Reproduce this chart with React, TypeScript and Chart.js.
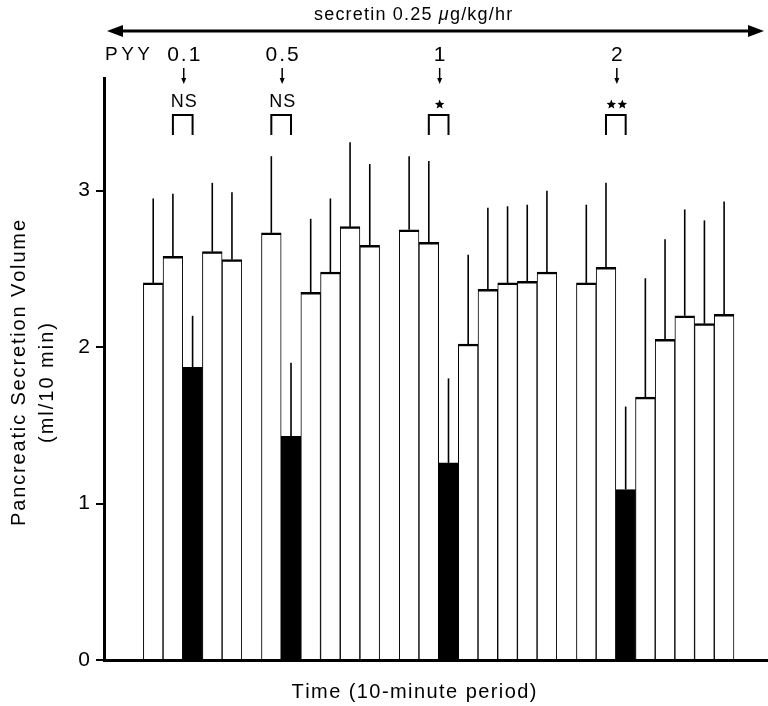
import React, { useEffect, useRef } from 'react';
import { Chart, registerables } from 'chart.js';

Chart.register(...registerables);

// 10-minute periods (slot index along the time axis); null = empty slot
const periods = [0, 1, 2, 3, 4, 5, 6, 7, 8, 9, 10, 11, 12, 13, 14, 15, 16, 17, 18, 19, 20, 21, 22, 23, 24, 25, 26, 27, 28, 29];
const means = [2.41, 2.58, 1.87, 2.61, 2.56, null, 2.73, 1.43, 2.35, 2.48, 2.77, 2.65, null, 2.75, 2.67, 1.26, 2.02, 2.37, 2.41, 2.42, 2.48, null, 2.41, 2.51, 1.09, 1.68, 2.05, 2.2, 2.15, 2.21];
const sem = [0.54, 0.4, 0.33, 0.44, 0.43, null, 0.49, 0.47, 0.47, 0.47, 0.54, 0.52, null, 0.47, 0.52, 0.54, 0.57, 0.52, 0.49, 0.49, 0.52, null, 0.5, 0.54, 0.53, 0.76, 0.64, 0.68, 0.66, 0.72];

// PYY infusion periods (black bars), doses and significance
const pyySlots = [2, 7, 15, 24];
const pyyDoses = ['0.1', '0.5', '1', '2'];
const significance = ['NS', 'NS', '*', '**'];

const yTicks = [0, 1, 2, 3];
const yTitle = ['Pancreatic Secretion Volume', '(ml/10 min)'];
const xTitle = 'Time (10-minute period)';
const secretinLabel = ['secretin 0.25 ', 'μ', 'g/kg/hr'];
const pyyLabel = 'PYY';

const FONT = '"Liberation Sans", Arial, Helvetica, sans-serif';

function charsWidth(ctx: CanvasRenderingContext2D, text: string) {
  return [...text].map((c) => ctx.measureText(c).width);
}

// draw text with letter spacing; returns end x
function drawSpaced(ctx: CanvasRenderingContext2D, text: string, x: number, y: number, spacing: number, align: 'left' | 'center') {
  const chars = [...text];
  const widths = charsWidth(ctx, text);
  const total = widths.reduce((a, b) => a + b, 0) + spacing * (chars.length - 1);
  let cx = align === 'center' ? x - total / 2 : x;
  ctx.textAlign = 'left';
  chars.forEach((c, i) => {
    ctx.fillText(c, cx, y);
    cx += widths[i] + spacing;
  });
  return cx;
}

function fitSpacing(ctx: CanvasRenderingContext2D, text: string, target: number) {
  const w = charsWidth(ctx, text).reduce((a, b) => a + b, 0);
  const n = [...text].length;
  return n > 1 ? Math.max(0, (target - w) / (n - 1)) : 0;
}

function drawStar(ctx: CanvasRenderingContext2D, cx: number, cy: number, r: number) {
  ctx.beginPath();
  for (let i = 0; i < 10; i++) {
    const rr = i % 2 === 0 ? r : r * 0.45;
    const a = -Math.PI / 2 + (i * Math.PI) / 5;
    const px = cx + rr * Math.cos(a);
    const py = cy + rr * Math.sin(a);
    if (i === 0) ctx.moveTo(px, py);
    else ctx.lineTo(px, py);
  }
  ctx.closePath();
  ctx.fill();
}

const errorBarPlugin = {
  id: 'errorBars',
  afterDatasetsDraw(chart: any) {
    const { ctx, scales } = chart;
    const xs = scales.x;
    const ys = scales.y;
    ctx.save();
    ctx.strokeStyle = '#000';
    ctx.lineWidth = 1.6;
    periods.forEach((p, i) => {
      const m = means[i];
      const s = sem[i];
      if (m == null || s == null) return;
      const x = xs.getPixelForValue(p);
      ctx.beginPath();
      ctx.moveTo(x, ys.getPixelForValue(m));
      ctx.lineTo(x, ys.getPixelForValue(m + s));
      ctx.stroke();
    });
    ctx.restore();
  },
};

const annotationPlugin = {
  id: 'annotations',
  afterDraw(chart: any) {
    const { ctx, scales, chartArea } = chart;
    const xs = scales.x;
    ctx.save();
    ctx.fillStyle = '#000';
    ctx.strokeStyle = '#000';
    ctx.textBaseline = 'alphabetic';

    // secretin double arrow
    const ax1 = 107;
    const ax2 = 764;
    const ay = 31;
    ctx.lineWidth = 3;
    ctx.beginPath();
    ctx.moveTo(ax1 + 10, ay);
    ctx.lineTo(ax2 - 10, ay);
    ctx.stroke();
    ctx.beginPath();
    ctx.moveTo(ax1, ay);
    ctx.lineTo(ax1 + 16, ay - 6);
    ctx.lineTo(ax1 + 16, ay + 6);
    ctx.closePath();
    ctx.fill();
    ctx.beginPath();
    ctx.moveTo(ax2, ay);
    ctx.lineTo(ax2 - 16, ay - 6);
    ctx.lineTo(ax2 - 16, ay + 6);
    ctx.closePath();
    ctx.fill();

    // secretin label
    ctx.font = `18px ${FONT}`;
    let tx = drawSpaced(ctx, secretinLabel[0], 314, 20, 1.2, 'left');
    ctx.font = `italic 18px ${FONT}`;
    tx = drawSpaced(ctx, secretinLabel[1], tx, 20, 1.2, 'left');
    ctx.font = `18px ${FONT}`;
    drawSpaced(ctx, secretinLabel[2], tx, 20, 1.2, 'left');

    // PYY label
    ctx.font = `19px ${FONT}`;
    drawSpaced(ctx, pyyLabel, 105, 60, fitSpacing(ctx, pyyLabel, 45), 'left');

    pyySlots.forEach((slot, k) => {
      const xa = xs.getPixelForValue(periods[slot - 1]);
      const xb = xs.getPixelForValue(periods[slot]);
      const xc = (xa + xb) / 2 + 1;
      // dose
      ctx.font = `21px ${FONT}`;
      drawSpaced(ctx, pyyDoses[k], xc, 61, 2, 'center');
      // small down arrow
      ctx.lineWidth = 1.5;
      ctx.beginPath();
      ctx.moveTo(xc, 68);
      ctx.lineTo(xc, 80);
      ctx.stroke();
      ctx.beginPath();
      ctx.moveTo(xc, 84);
      ctx.lineTo(xc - 2.5, 78);
      ctx.lineTo(xc + 2.5, 78);
      ctx.closePath();
      ctx.fill();
      // significance
      const sig = significance[k];
      if (sig === 'NS') {
        ctx.font = `18px ${FONT}`;
        drawSpaced(ctx, sig, xc, 107, 1, 'center');
      } else {
        const n = sig.length;
        for (let j = 0; j < n; j++) {
          drawStar(ctx, xc + (j - (n - 1) / 2) * 11, 104.5, 5);
        }
      }
      // bracket
      ctx.lineWidth = 2;
      ctx.beginPath();
      ctx.moveTo(xa, 135);
      ctx.lineTo(xa, 115);
      ctx.lineTo(xb, 115);
      ctx.lineTo(xb, 135);
      ctx.stroke();
    });

    // y title (rotated)
    ctx.font = `20px ${FONT}`;
    ctx.save();
    ctx.translate(25, 373);
    ctx.rotate(-Math.PI / 2);
    drawSpaced(ctx, yTitle[0], 0, 0, fitSpacing(ctx, yTitle[0], 306), 'center');
    ctx.restore();
    ctx.save();
    ctx.translate(53, 383);
    ctx.rotate(-Math.PI / 2);
    drawSpaced(ctx, yTitle[1], 0, 0, fitSpacing(ctx, yTitle[1], 120), 'center');
    ctx.restore();

    // x title
    ctx.font = `20px ${FONT}`;
    drawSpaced(ctx, xTitle, 414, chartArea.bottom + 38, fitSpacing(ctx, xTitle, 245), 'center');

    ctx.restore();
  },
};

export default function App() {
  const canvasRef = useRef<HTMLCanvasElement | null>(null);

  useEffect(() => {
    const canvas = canvasRef.current;
    if (!canvas) return;
    const chart = new Chart(canvas, {
      type: 'bar',
      data: {
        datasets: [
          {
            data: periods.map((p, i) => ({ x: p, y: means[i] })) as any,
            backgroundColor: periods.map((p) => (pyySlots.includes(p) ? '#000' : '#fff')),
            borderColor: '#000',
            borderWidth: { top: 2.5, left: 1, right: 1, bottom: 0 } as any,
            borderSkipped: 'start',
            barPercentage: 1,
            categoryPercentage: 1,
          },
        ],
      },
      options: {
        animation: false,
        responsive: false,
        devicePixelRatio: 1,
        layout: { padding: { top: 78, bottom: 46, left: 0, right: 0 } },
        plugins: {
          legend: { display: false },
          tooltip: { enabled: false },
          title: { display: false },
        },
        scales: {
          x: {
            type: 'linear',
            min: -2.5,
            max: 31.23,
            offset: false,
            grid: { display: false },
            ticks: { display: false },
            border: { display: true, color: '#000', width: 3, z: 1 },
            afterFit: (s: any) => {
              s.height = 0;
            },
          },
          y: {
            min: 0,
            max: 3.72,
            afterBuildTicks: (s: any) => {
              s.ticks = yTicks.map((v) => ({ value: v }));
            },
            ticks: {
              color: '#000',
              padding: 6,
              font: { family: FONT, size: 21 },
              callback: (v: any) => String(v),
            },
            grid: {
              display: true,
              drawOnChartArea: false,
              drawTicks: true,
              tickLength: 8,
              color: '#000',
              lineWidth: 2,
            },
            border: { display: true, color: '#000', width: 3, z: 1 },
            afterFit: (s: any) => {
              s.width = 104;
            },
          },
        },
      } as any,
      plugins: [errorBarPlugin, annotationPlugin],
    });
    return () => chart.destroy();
  }, []);

  return (
    <div style={{ position: 'absolute', left: 0, top: 0, width: 768, height: 706, background: '#fff' }}>
      <canvas ref={canvasRef} width={768} height={706} style={{ display: 'block' }} />
    </div>
  );
}
